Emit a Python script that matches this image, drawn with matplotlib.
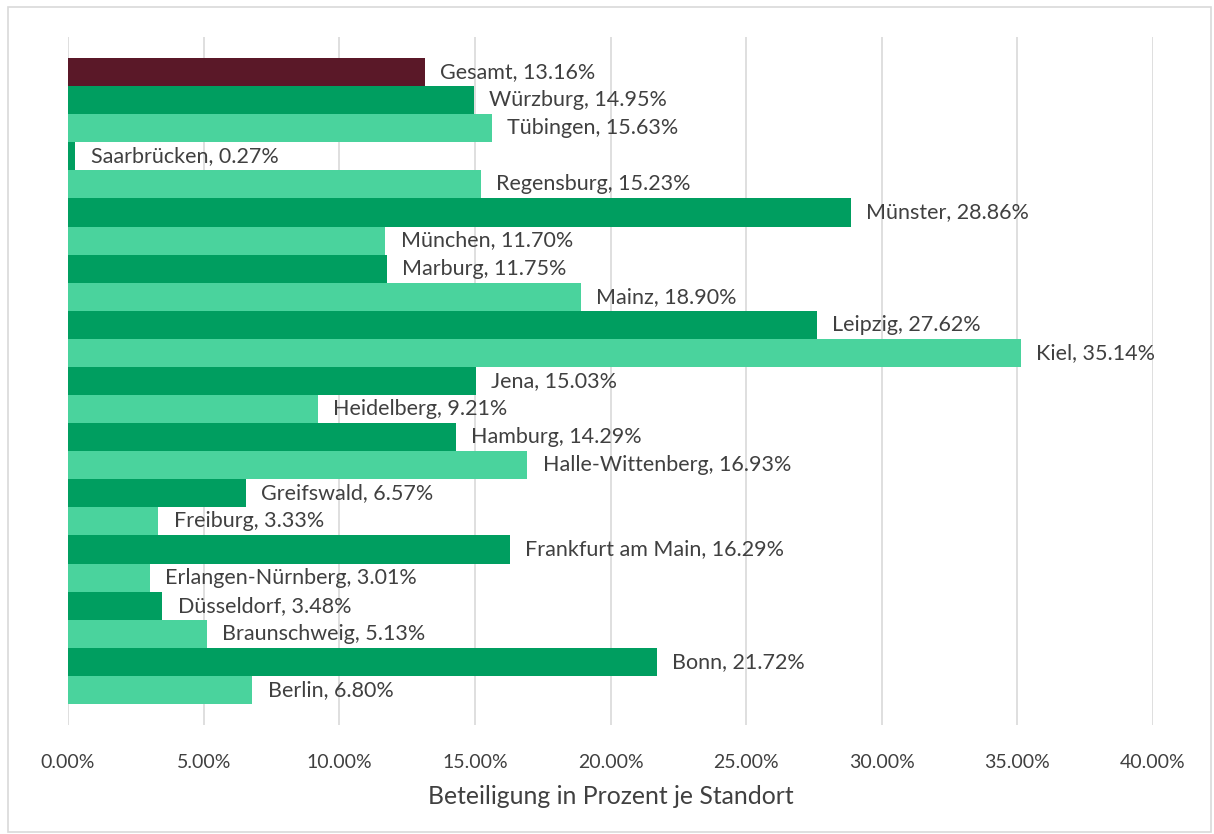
import matplotlib.pyplot as plt
from matplotlib.patches import Rectangle
from matplotlib.ticker import FuncFormatter

# Standorte von oben nach unten, Werte in Prozent
standorte = ["Gesamt", "Würzburg", "Tübingen", "Saarbrücken", "Regensburg", "Münster",
             "München", "Marburg", "Mainz", "Leipzig", "Kiel", "Jena", "Heidelberg",
             "Hamburg", "Halle-Wittenberg", "Greifswald", "Freiburg", "Frankfurt am Main",
             "Erlangen-Nürnberg", "Düsseldorf", "Braunschweig", "Bonn", "Berlin"]
werte = [13.16, 14.95, 15.63, 0.27, 15.23, 28.86, 11.70, 11.75, 18.90, 27.62, 35.14,
         15.03, 9.21, 14.29, 16.93, 6.57, 3.33, 16.29, 3.01, 3.48, 5.13, 21.72, 6.80]
x_ticks = [0, 5, 10, 15, 20, 25, 30, 35, 40]

FARBE_GESAMT = "#5A1828"
FARBE_DUNKEL = "#009E60"
FARBE_HELL = "#4AD39D"
TEXT = "#404040"

plt.rcParams['font.family'] = ['Lato', 'DejaVu Sans']

fig = plt.figure(figsize=(12.14, 8.34), dpi=100)
ax = fig.add_axes([68 / 1214, 1 - 725 / 834, (1153 - 68) / 1214, (725 - 37) / 834])

n = len(standorte)
pos = [n - 1 - i for i in range(n)]
farben = []
for i in range(n):
    if i == 0:
        farben.append(FARBE_GESAMT)
    elif i % 2 == 1:
        farben.append(FARBE_DUNKEL)
    else:
        farben.append(FARBE_HELL)

ax.barh(pos, werte, height=1.0, color=farben, zorder=2)

for y, name, w in zip(pos, standorte, werte):
    ax.annotate(f"{name}, {w:.2f}%", xy=(w, y), xytext=(11, 0),
                textcoords="offset points", va="center", ha="left",
                fontsize=15.5, color=TEXT, zorder=3)

ax.set_xlim(0, 40)
ax.set_ylim(-1.25, n - 1 + 1.25)
ax.set_xticks(x_ticks)
ax.xaxis.set_major_formatter(FuncFormatter(lambda v, p: f"{v:.2f}%"))
ax.set_yticks([])
ax.tick_params(axis="x", length=0, pad=21, labelsize=14, labelcolor=TEXT)
ax.grid(axis="x", color="#D9D9D9", linewidth=1.2, zorder=0)
for s in ax.spines.values():
    s.set_visible(False)
ax.set_xlabel("Beteiligung in Prozent je Standort", fontsize=17.8, color=TEXT, labelpad=10)

# Rahmen um das Diagramm
fig.patches.append(Rectangle((8 / 1214, 1 - 832 / 834), 1203 / 1214, 825 / 834,
                             transform=fig.transFigure, fill=False,
                             edgecolor="#D9D9D9", linewidth=1.2))

fig.savefig("out.png", dpi=100)
